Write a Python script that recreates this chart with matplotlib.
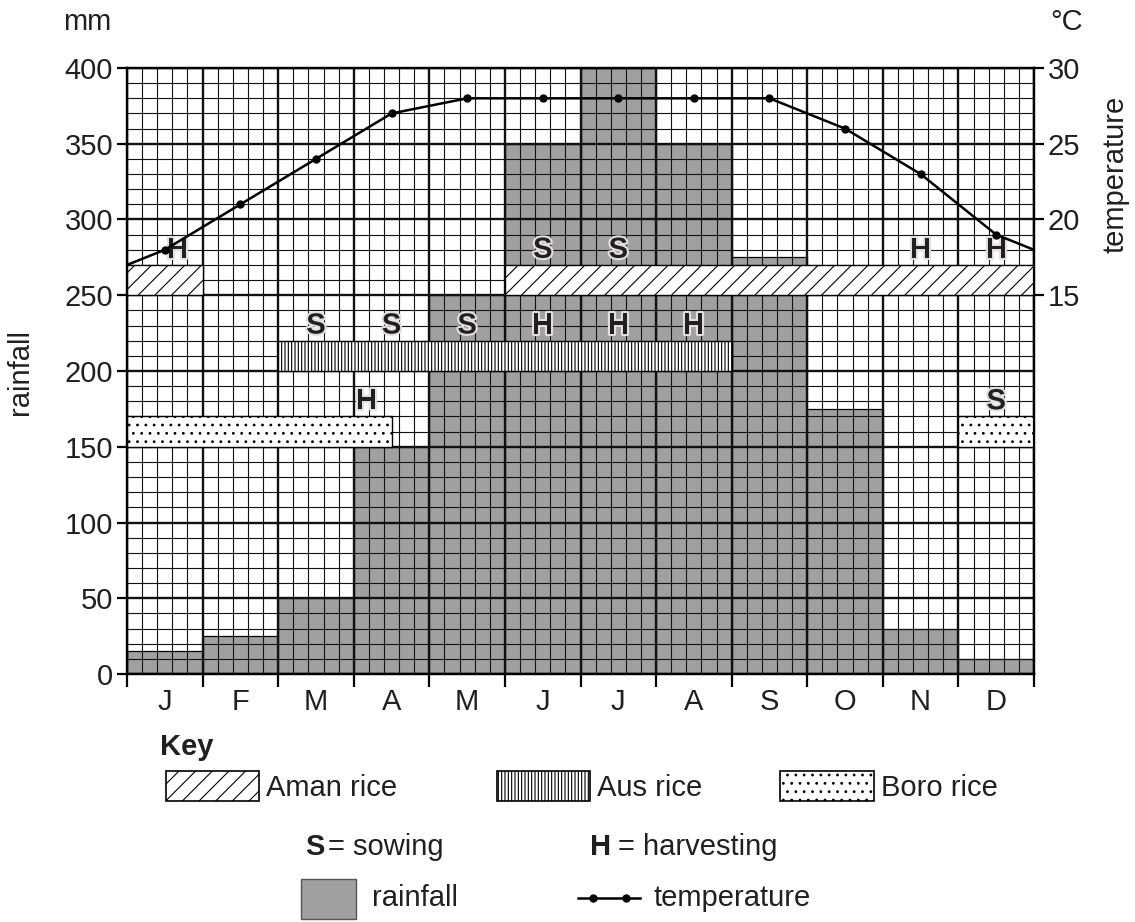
import matplotlib
matplotlib.use("Agg")
import matplotlib.pyplot as plt
import matplotlib.patheffects as pe
from matplotlib.patches import Rectangle
from matplotlib.lines import Line2D
import numpy as np

plt.rcParams["font.family"] = ["Liberation Sans", "DejaVu Sans"]
plt.rcParams["hatch.linewidth"] = 0.8

INK = "#231f20"
GREY = "#a0a0a0"
FS = 21

# --- data -------------------------------------------------------------
months = ["J", "F", "M", "A", "M", "J", "J", "A", "S", "O", "N", "D"]
rainfall_mm = [15, 25, 50, 150, 250, 350, 400, 350, 275, 175, 30, 10]
temperature_c = [18, 21, 24, 27, 28, 28, 28, 28, 28, 26, 23, 19]
temp_edge_start = 17.0   # line value at start of January
temp_edge_end = 18.0     # line value at end of December

# crop periods: (start month, length in months); band = (bottom mm, height mm)
aman_periods = [(0.0, 1.0), (5.0, 7.0)]
aman_band = (250, 20)
aman_marks = [(0.67, "H"), (5.5, "S"), (6.5, "S"), (10.5, "H"), (11.5, "H")]

aus_periods = [(2.0, 6.0)]
aus_band = (200, 20)
aus_marks = [(2.5, "S"), (3.5, "S"), (4.5, "S"), (5.5, "H"), (6.5, "H"), (7.5, "H")]

boro_periods = [(0.0, 3.5), (11.0, 1.0)]
boro_band = (150, 20)
boro_marks = [(3.17, "H"), (11.5, "S")]

rain_ticks = [0, 50, 100, 150, 200, 250, 300, 350, 400]
temp_ticks = [15, 20, 25, 30]

# --- figure -----------------------------------------------------------
W, H = 1135, 922
fig = plt.figure(figsize=(W / 100, H / 100), dpi=100)
ax = fig.add_axes([127 / W, 1 - 674 / H, 907 / W, 606 / H])

x = np.arange(len(months)) + 0.5
ax.bar(x, rainfall_mm, width=1.0, color=GREY, edgecolor="black", linewidth=0.9, zorder=1)

# fine graph-paper grid, drawn over the rainfall bars
for i in range(61):
    ax.axvline(i / 5, color="#111111", lw=1.7 if i % 5 == 0 else 0.8, zorder=2)
for v in range(0, 401, 10):
    ax.axhline(v, color="#111111", lw=1.7 if v % 50 == 0 else 0.8, zorder=2)

halo = [pe.withStroke(linewidth=3, foreground="#e0e0e0")]
for periods, band, hatch, marks in [
    (aman_periods, aman_band, "//", aman_marks),
    (aus_periods, aus_band, "|||||", aus_marks),
    (boro_periods, boro_band, "..", boro_marks),
]:
    ax.broken_barh(periods, band, facecolors="white", edgecolors="black",
                   linewidth=1.0, hatch=hatch, zorder=3)
    for mx, letter in marks:
        ax.text(mx, band[0] + band[1] + 10, letter, ha="center", va="center",
                fontsize=FS, fontweight="bold", color=INK, zorder=5,
                path_effects=halo)

ax.set_xlim(0, 12)
ax.set_ylim(0, 400)
ax.set_yticks(rain_ticks)
ax.tick_params(axis="y", labelsize=FS, labelcolor=INK, length=7, width=1.6, pad=3)
ax.set_xticks(range(13))
ax.set_xticklabels([])
ax.set_xticks(x, minor=True)
ax.set_xticklabels(months, minor=True)
ax.tick_params(axis="x", which="major", length=9, width=1.6)
ax.tick_params(axis="x", which="minor", length=0, labelsize=FS, labelcolor=INK, pad=10)
for s in ax.spines.values():
    s.set_linewidth(1.6)

ax2 = ax.twinx()
ax2.set_ylim(-10, 30)
ax2.set_yticks(temp_ticks)
ax2.tick_params(axis="y", labelsize=FS, labelcolor=INK, length=7, width=1.6, pad=3)
for s in ax2.spines.values():
    s.set_linewidth(1.6)
line_x = np.concatenate([[0], x, [12]])
line_y = [temp_edge_start] + temperature_c + [temp_edge_end]
ax2.plot(line_x, line_y, color="black", lw=1.8, zorder=4)
ax2.plot(x, temperature_c, "o", color="black", ms=5, zorder=4)

ax.text(-0.0435, 1.076, "mm", transform=ax.transAxes, ha="center", va="center",
        fontsize=FS, color=INK)
ax.text(1.0364, 1.076, "°C", transform=ax.transAxes, ha="center", va="center",
        fontsize=FS, color=INK)
ax.text(-0.118, 0.498, "rainfall", transform=ax.transAxes, ha="center", va="center",
        rotation=90, fontsize=FS, color=INK)
ax.text(1.09, 0.825, "temperature", transform=ax.transAxes, ha="center", va="center",
        rotation=90, fontsize=FS, color=INK)

# --- key --------------------------------------------------------------
def fx(px):
    return px / W


def fy(py):
    return 1 - py / H


fig.text(fx(160), fy(747), "Key", fontsize=FS, fontweight="bold", color=INK,
         ha="left", va="center")
for (x0, x1), hatch, label in [
    ((166, 259), "//", "Aman rice"),
    ((497, 590), "|||||", "Aus rice"),
    ((780, 874), "..", "Boro rice"),
]:
    fig.add_artist(Rectangle((fx(x0), fy(801)), fx(x1) - fx(x0), fy(771) - fy(801),
                             transform=fig.transFigure, facecolor="white",
                             edgecolor="black", linewidth=1.2, hatch=hatch))
    fig.text(fx(x1 + 7), fy(788), label, fontsize=FS, color=INK, ha="left", va="center")

fig.text(fx(305), fy(847), "S", fontsize=FS, fontweight="bold", color=INK,
         ha="left", va="center")
fig.text(fx(328), fy(847), "= sowing", fontsize=FS, color=INK, ha="left", va="center")
fig.text(fx(590), fy(847), "H", fontsize=FS, fontweight="bold", color=INK,
         ha="left", va="center")
fig.text(fx(618), fy(847), "= harvesting", fontsize=FS, color=INK, ha="left", va="center")

fig.add_artist(Rectangle((fx(301), fy(919)), fx(356) - fx(301), fy(879) - fy(919),
                         transform=fig.transFigure, facecolor=GREY,
                         edgecolor="#555555", linewidth=1.0))
fig.text(fx(372), fy(898), "rainfall", fontsize=FS, color=INK, ha="left", va="center")
fig.add_artist(Line2D([fx(578), fx(640)], [fy(898), fy(898)], transform=fig.transFigure,
                      color="black", lw=1.8))
fig.add_artist(Line2D([fx(593), fx(626)], [fy(898), fy(898)], transform=fig.transFigure,
                      color="black", lw=0, marker="o", ms=5))
fig.text(fx(653), fy(898), "temperature", fontsize=FS, color=INK, ha="left", va="center")

fig.savefig("out.png", dpi=100)
